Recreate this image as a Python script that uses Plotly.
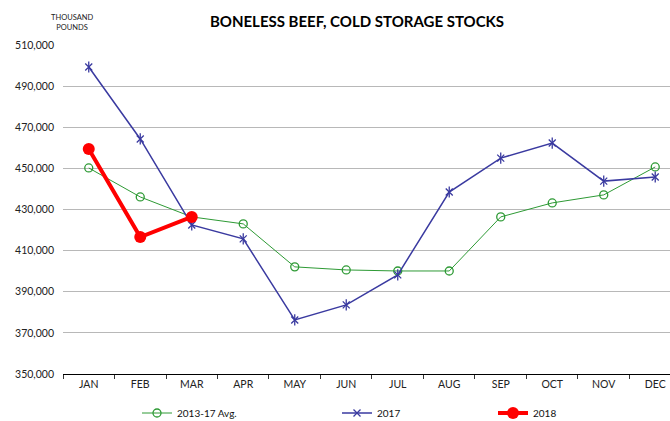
import plotly.graph_objects as go

months = ["JAN", "FEB", "MAR", "APR", "MAY", "JUN", "JUL", "AUG", "SEP", "OCT", "NOV", "DEC"]
avg_2013_17 = [450200, 436100, 426400, 423000, 402100, 400600, 400100, 400100, 426400, 433200, 437100, 450700]
y2017 = [499300, 464300, 422500, 415700, 376300, 383600, 398200, 438500, 455000, 462300, 443800, 445800]
y2018 = [459400, 416600, 426400]
months_2018 = months[:3]
y_ticks = [350000, 370000, 390000, 410000, 430000, 450000, 470000, 490000, 510000]

FONT = "Lato, 'Open Sans', sans-serif"
GREEN = "#2E9A35"
BLUE = "#3A3AA0"
RED = "#FF0000"

L, R, T, B = 63, 0, 45, 47
W, H = 670, 421
PW = W - L - R
PH = H - T - B

def lx(px):
    return (px - L) / PW

def ly(py):
    return (H - B - py) / PH

fig = go.Figure()
fig.add_trace(go.Scatter(
    x=months, y=avg_2013_17, name="2013-17 Avg.", mode="lines+markers", legend="legend",
    line=dict(color=GREEN, width=1),
    marker=dict(symbol="circle-open", size=8, color=GREEN, line=dict(width=1.3)),
))
fig.add_trace(go.Scatter(
    x=months, y=y2017, name="2017", mode="lines+markers", legend="legend2",
    line=dict(color=BLUE, width=1.5),
    marker=dict(symbol="x-thin-open", size=7, color=BLUE, line=dict(width=1.3, color=BLUE)),
))
fig.add_trace(go.Scatter(
    x=months, y=y2017, name="2017", mode="markers", showlegend=False, hoverinfo="skip",
    marker=dict(symbol="line-ns-open", size=8, color=BLUE, line=dict(width=1.3, color=BLUE)),
))
fig.add_trace(go.Scatter(
    x=months_2018, y=y2018, name="2018", mode="lines+markers", legend="legend3",
    line=dict(color=RED, width=4),
    marker=dict(symbol="circle", size=12, color=RED),
))

leg_common = dict(orientation="h", yanchor="middle", y=ly(413), xanchor="left",
                  font=dict(family=FONT, size=10, color="#111111"),
                  bgcolor="rgba(0,0,0,0)", itemwidth=30)

fig.update_layout(
    width=W, height=H,
    margin=dict(l=L, r=R, t=T, b=B, autoexpand=False),
    paper_bgcolor="white", plot_bgcolor="white",
    font=dict(family=FONT, size=10, color="#222222"),
    title=dict(text="<b>BONELESS BEEF, COLD STORAGE STOCKS</b>",
               x=357 / W, xref="container", xanchor="center",
               y=1 - 22 / H, yref="container", yanchor="middle",
               font=dict(family=FONT, size=15, color="black")),
    legend=dict(leg_common, x=lx(177 - 40)),
    legend2=dict(leg_common, x=lx(377 - 40)),
    legend3=dict(leg_common, x=lx(533 - 40)),
    showlegend=True,
    annotations=[dict(text="THOUSAND<br>POUNDS", xref="paper", yref="paper",
                      x=lx(72), y=ly(22),
                      xanchor="center", yanchor="middle", showarrow=False,
                      font=dict(family=FONT, size=7.5, color="#222222"))],
)
fig.update_xaxes(
    type="category", range=[-0.5, 11.5 - 11 / 51.6], automargin=False,
    showgrid=False, showline=True, linecolor="black", linewidth=1,
    ticks="outside", tickson="boundaries", ticklen=4, tickcolor="#333333",
    tickfont=dict(family=FONT, size=10.5, color="#222222"),
)
fig.update_yaxes(
    range=[350000, 510000], tickvals=y_ticks, tickformat=",d", automargin=False,
    showgrid=True, gridcolor="#B8B8B8", gridwidth=1.3, zeroline=False,
    ticks="", ticklabelstandoff=8,
    tickfont=dict(family=FONT, size=10.5, color="#222222"),
)

fig.write_html("out.html", config={"displayModeBar": False},
               post_script="document.body.style.margin='0px';document.body.style.overflow='hidden';")
